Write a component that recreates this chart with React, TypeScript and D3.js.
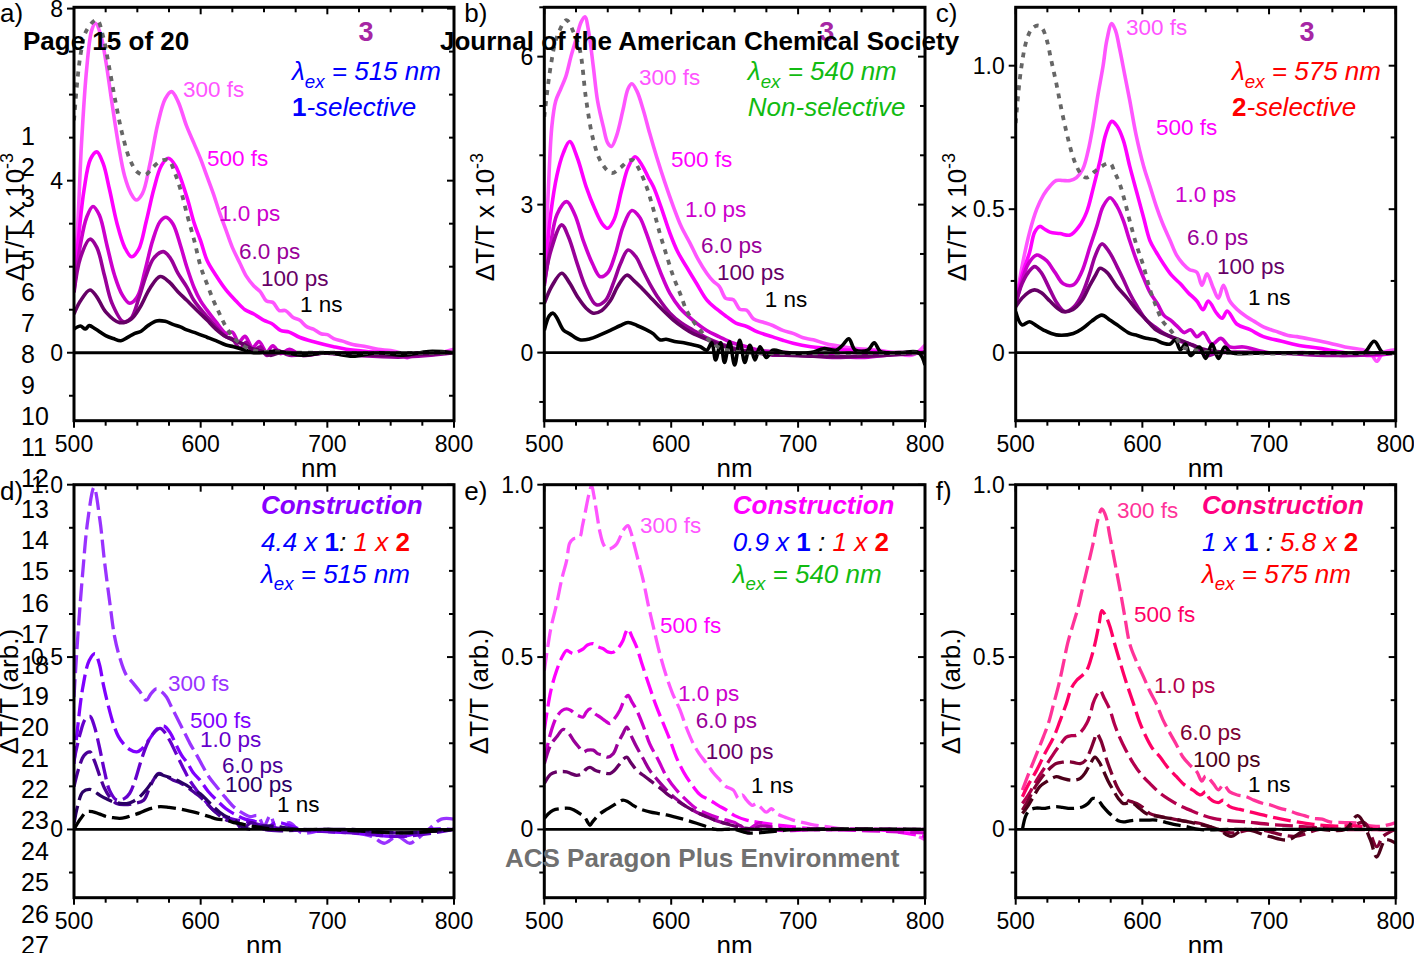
import React from 'react';
import * as d3 from 'd3';

type Pt = [number, number];

const X_DOMAIN: [number, number] = [500, 800];
const X_TICKS = [500, 600, 700, 800];
const TIME_LABELS = ['300 fs', '500 fs', '1.0 ps', '6.0 ps', '100 ps', '1 ns'];

// ---------- Panel a (λex = 515 nm, ×10^-3) ----------
const A_300fs: Pt[] = [[500,1.6],[503,3.0],[506,4.9],[510,6.6],[514,7.5],[517,7.66],[521,7.4],[525,6.8],[530,5.8],[535,4.85],[540,4.1],[545,3.7],[549,3.55],[554,3.7],[560,4.4],[566,5.3],[572,5.9],[577,6.07],[582,5.85],[589,5.26],[595,4.85],[600,4.5],[605,4.1],[610,3.7],[615,3.25],[620,2.85],[625,2.45],[631,2.08],[636,1.78],[642,1.55],[647,1.42],[652,1.2],[657,1.17],[662,0.98],[667,0.98],[673,0.82],[678,0.76],[684,0.6],[689,0.55],[695,0.44],[700,0.42],[705,0.33],[712,0.27],[720,0.19],[731,0.14],[740,0.08],[750,0.05],[757,0.0],[763,-0.12],[770,0.0],[780,-0.06],[790,0.0],[800,0.08]];
const A_500fs: Pt[] = [[500,1.5],[504,2.8],[508,3.8],[513,4.5],[518,4.67],[523,4.4],[528,3.8],[534,3.0],[540,2.45],[545.5,2.23],[551,2.4],[557,3.05],[563,3.8],[569,4.35],[574.5,4.52],[580,4.35],[589,3.63],[595,3.0],[600,2.6],[605,2.15],[612,1.8],[620,1.46],[628,1.2],[635,1.0],[642,0.9],[650,0.75],[656,0.68],[663,0.52],[670,0.48],[678,0.36],[690,0.25],[705,0.14],[715,0.08],[731,0.03],[750,0.0],[765,-0.06],[780,0.0],[800,0.0]];
const A_1ps: Pt[] = [[500,1.45],[505,2.5],[510,3.15],[515,3.4],[520,3.2],[526,2.5],[532,1.8],[538,1.35],[544,1.15],[550,1.3],[556,1.9],[562,2.6],[568,3.05],[572.6,3.15],[578,3.0],[584,2.5],[589,2.0],[595,1.5],[600,1.2],[605,0.99],[612,0.72],[620,0.45],[625,0.48],[630,0.25],[635,0.38],[641,0.12],[646,0.26],[652,0.02],[657,0.16],[663,-0.02],[670,0.08],[680,-0.06],[700,0.0],[750,-0.06],[800,0.0]];
const A_6ps: Pt[] = [[500,1.4],[505,2.2],[512.6,2.64],[518,2.45],[524,1.8],[530,1.15],[539,0.72],[545,0.8],[551,1.25],[557,1.8],[563,2.2],[570.5,2.35],[576,2.2],[582,1.85],[589,1.53],[595,1.2],[605,0.84],[612,0.6],[620,0.37],[625,0.32],[631,0.1],[636,0.24],[641,0.03],[647,0.14],[652,-0.06],[660,0.06],[670,-0.06],[690,0.0],[720,-0.06],[760,-0.1],[800,0.0]];
const A_100ps: Pt[] = [[500,0.9],[505,1.2],[512.6,1.46],[518,1.3],[525,0.95],[536,0.7],[545,0.78],[552,1.05],[560,1.5],[568,1.77],[575,1.65],[582,1.42],[589,1.22],[600,0.9],[605,0.76],[612,0.55],[620,0.37],[627,0.28],[635,0.18],[640,0.1],[647,0.05],[655,-0.06],[665,0.02],[680,-0.06],[700,0.0],[740,-0.06],[800,0.0]];
const A_1ns: Pt[] = [[500,0.55],[505,0.62],[509,0.55],[512,0.63],[517,0.55],[525,0.4],[531,0.33],[537,0.28],[542,0.35],[548,0.45],[553,0.5],[558,0.62],[565,0.74],[572,0.73],[578,0.66],[584,0.6],[589,0.53],[597,0.45],[605,0.36],[612,0.28],[620,0.18],[626,0.14],[631,0.1],[636,0.05],[642,0.0],[660,0.03],[680,-0.06],[700,0.0],[720,-0.08],[740,0.0],[760,-0.06],[780,0.03],[800,0.0]];
const A_ground: Pt[] = [[500,5.4],[505,6.9],[510,7.5],[518,7.74],[523,7.35],[528,6.6],[533,5.8],[538,5.1],[544,4.5],[550,4.2],[556,4.13],[562,4.3],[568,4.45],[574.5,4.48],[580,4.15],[585,3.7],[589,3.24],[595,2.6],[600,2.0],[605,1.6],[610,1.22],[615,0.9],[620,0.6],[626,0.35],[631,0.22],[636,0.12],[641,0.06],[650,0.02],[700,0.0],[800,0.0]];

// ---------- Panel b (λex = 540 nm, ×10^-3) ----------
const B_300fs: Pt[] = [[500,1.5],[503,3.2],[506,4.6],[509,5.1],[513,5.35],[517,5.6],[521,6.0],[525,6.35],[529,6.7],[532,6.81],[535,6.5],[538.6,5.8],[542,5.1],[546.5,4.58],[550,4.25],[553,4.18],[557,4.4],[562,4.92],[566,5.35],[569,5.45],[573,5.3],[578,4.92],[583,4.45],[588.5,3.97],[595,3.45],[601.7,2.96],[608,2.55],[614.8,2.22],[621,1.9],[628,1.61],[633,1.45],[638,1.34],[643,1.1],[649,1.07],[654,0.88],[659.5,0.86],[665,0.68],[672,0.62],[680,0.55],[688,0.45],[696,0.39],[704,0.3],[712,0.26],[722,0.18],[735,0.12],[748,0.08],[762,0.05],[775,0.0],[790,-0.05],[800,0.15]];
const B_500fs: Pt[] = [[500,1.45],[505,2.8],[510,3.6],[515,4.05],[520,4.28],[526,3.95],[533,3.36],[540,2.9],[546,2.6],[550,2.52],[555,2.7],[561,3.3],[566,3.75],[571.5,3.97],[577,3.8],[582,3.55],[586,3.36],[592,2.95],[599,2.42],[605,2.05],[612,1.74],[620,1.4],[628,1.07],[636,0.88],[643.7,0.73],[651,0.6],[659.5,0.53],[668,0.42],[680,0.32],[688,0.25],[696,0.19],[710,0.12],[722,0.09],[740,0.05],[760,0.02],[780,0.0],[800,0.02]];
const B_1ps: Pt[] = [[500,1.35],[505,2.2],[510,2.8],[517.6,3.06],[524,2.8],[531,2.25],[538,1.8],[544,1.54],[550,1.62],[556,2.0],[562,2.55],[569,2.88],[575,2.75],[580,2.45],[586,2.01],[592,1.6],[599,1.2],[607,0.9],[617,0.66],[628,0.45],[638,0.32],[648,0.2],[659.5,0.12],[670,0.05],[690,0.0],[720,-0.05],[750,-0.1],[770,-0.05],[800,0.0]];
const B_6ps: Pt[] = [[500,1.4],[505,2.05],[513.7,2.59],[519,2.35],[526,1.8],[533,1.3],[541,0.97],[548,1.05],[555,1.45],[560,1.8],[566,2.08],[572,1.95],[577,1.7],[583,1.4],[590,1.1],[599,0.8],[608,0.6],[617,0.46],[628,0.3],[638,0.19],[648,0.1],[660,0.03],[680,-0.05],[700,-0.05],[730,-0.1],[760,-0.05],[800,0.0]];
const B_100ps: Pt[] = [[500,1.0],[506,1.35],[513.7,1.61],[519,1.45],[527,1.1],[533,0.9],[538.6,0.8],[545,0.85],[552,1.05],[558,1.35],[565,1.57],[571,1.45],[577,1.3],[583,1.14],[590,0.95],[601.7,0.66],[610,0.5],[617,0.39],[627,0.28],[638,0.16],[648,0.08],[660,0.02],[690,-0.05],[730,-0.08],[770,-0.05],[800,0.0]];
const B_1ns: Pt[] = [[500,0.45],[504,0.75],[507,0.8],[510,0.7],[515,0.46],[520,0.38],[528,0.26],[536,0.28],[544,0.36],[552,0.45],[560,0.55],[566,0.61],[573,0.55],[580.6,0.46],[586,0.38],[591,0.26],[596,0.27],[604,0.22],[610,0.2],[617,0.16],[623,0.12],[628,0.05],[632,0.2],[635,-0.15],[639,0.2],[642,-0.2],[646,0.22],[650,-0.25],[654,0.25],[658,-0.2],[662,0.15],[666,-0.15],[670,0.12],[675,-0.1],[680,0.05],[690,0.0],[710,0.0],[720,0.08],[730,0.05],[735,0.15],[740,0.28],[745,0.05],[755,0.05],[760,0.2],[765,0.02],[780,0.0],[795,0.0],[800,-0.25]];
const B_ground: Pt[] = [[500,4.78],[505,5.8],[510,6.4],[517.5,6.74],[523,6.5],[528,6.14],[533,5.12],[538.6,4.31],[545,3.85],[553,3.64],[560,3.75],[566,3.88],[570,3.9],[575,3.7],[580.6,3.36],[586,2.9],[591,2.42],[596,2.0],[601.7,1.54],[607,1.2],[612,0.86],[617,0.65],[622.7,0.46],[628,0.3],[633,0.19],[638,0.1],[643.7,0.05],[660,0.0],[800,0.0]];

// ---------- Panel c (λex = 575 nm, ×10^-3) ----------
const C_300fs: Pt[] = [[500,0.17],[505,0.3],[511,0.42],[516.6,0.5],[522,0.55],[527,0.58],[532,0.6],[537,0.6],[543,0.6],[548,0.61],[553,0.64],[557,0.7],[561,0.79],[565,0.9],[569,1.0],[572,1.09],[575.8,1.147],[579,1.12],[582,1.06],[586,0.97],[590,0.88],[595,0.76],[601,0.65],[606,0.58],[611,0.51],[616,0.45],[622,0.39],[627,0.34],[632,0.31],[637,0.29],[643,0.28],[647,0.235],[651,0.275],[656,0.225],[660,0.19],[664,0.235],[669,0.18],[675,0.15],[682,0.126],[688,0.11],[695.5,0.09],[705,0.075],[715,0.06],[722,0.056],[735,0.045],[748,0.033],[760,0.02],[774,0.01],[780,0.0],[785,-0.03],[790,0.0],[800,0.01]];
const C_500fs: Pt[] = [[500,0.17],[505,0.27],[511,0.35],[515,0.42],[519,0.44],[523,0.43],[527,0.42],[535,0.415],[543,0.41],[550,0.44],[556,0.49],[561,0.57],[566.6,0.67],[571,0.76],[575.8,0.806],[580,0.79],[585,0.74],[590,0.65],[595.5,0.56],[601,0.47],[606,0.39],[611,0.35],[616.6,0.31],[623,0.27],[630,0.24],[636,0.21],[643,0.18],[648,0.15],[652,0.18],[658.7,0.137],[663,0.12],[667,0.145],[674.5,0.1],[685,0.08],[695.5,0.056],[710,0.04],[722,0.027],[740,0.015],[760,0.0],[780,-0.01],[800,0.0]];
const C_1ps: Pt[] = [[500,0.17],[505,0.25],[510,0.31],[516.6,0.34],[520,0.335],[524.5,0.32],[531,0.28],[537.6,0.24],[545.5,0.236],[552,0.28],[558.7,0.37],[564,0.44],[569,0.51],[574.5,0.54],[580,0.51],[585,0.46],[590,0.39],[595.5,0.32],[601,0.26],[606,0.21],[612,0.17],[617,0.13],[622,0.114],[628,0.09],[633,0.07],[638,0.08],[643,0.056],[648,0.07],[655,0.03],[662,0.05],[669,0.02],[680,0.02],[700,0.0],[730,0.0],[760,-0.01],[800,0.0]];
const C_6ps: Pt[] = [[500,0.17],[505,0.24],[510,0.28],[515,0.3],[520,0.28],[527,0.22],[533,0.17],[539,0.143],[546,0.16],[552,0.2],[558,0.27],[563,0.34],[568,0.379],[574,0.35],[580,0.3],[585,0.255],[590,0.207],[596,0.16],[603,0.114],[610,0.09],[616,0.07],[622,0.056],[630,0.04],[638,0.03],[643,0.02],[650,-0.01],[660,0.0],[700,0.0],[750,-0.01],[800,0.0]];
const C_100ps: Pt[] = [[500,0.16],[505,0.19],[510,0.21],[515,0.219],[520,0.21],[527,0.18],[533,0.155],[537.6,0.143],[545,0.15],[552,0.18],[558,0.23],[563,0.27],[566.6,0.294],[572,0.28],[580,0.23],[588,0.19],[595.5,0.149],[603,0.115],[611,0.079],[620,0.06],[630,0.044],[640,0.025],[650,0.01],[670,0.0],[700,0.0],[760,0.0],[800,0.0]];
const C_1ns: Pt[] = [[500,0.143],[505,0.097],[511,0.108],[516,0.095],[522,0.079],[532,0.062],[545.5,0.067],[553,0.085],[560,0.11],[568,0.131],[574,0.115],[580,0.097],[590,0.067],[596,0.06],[603,0.05],[610,0.045],[616.6,0.033],[622,0.03],[626,0.045],[630,0.01],[634,0.03],[638,-0.01],[645,0.02],[650,-0.02],[655,0.03],[660,-0.02],[665,0.02],[670,0.0],[700,0.0],[740,0.0],[760,0.0],[775,0.0],[783,0.04],[790,0.0],[800,0.0]];
const C_ground: Pt[] = [[500,0.8],[504,0.98],[508.7,1.09],[513,1.13],[517.9,1.14],[521,1.13],[524.5,1.09],[528,1.02],[532,0.94],[536,0.85],[540,0.77],[544,0.7],[548,0.65],[552,0.62],[556,0.61],[562,0.63],[568,0.65],[574.5,0.66],[578,0.63],[582,0.59],[586,0.53],[590,0.46],[595,0.38],[601,0.3],[606,0.22],[611,0.16],[616,0.11],[622,0.08],[627,0.05],[632,0.02],[640,0.01],[660,0.0],[800,0.0]];

// ---------- Panel d (construction, λex = 515 nm, arb.) ----------
const D_300fs: Pt[] = [[500,0.384],[503,0.56],[507,0.75],[511,0.9],[515.8,0.992],[520.5,0.896],[524,0.78],[528.4,0.654],[532,0.56],[536,0.5],[541,0.45],[547,0.423],[552,0.4],[557,0.375],[561,0.395],[565,0.408],[569,0.4],[573,0.384],[577,0.355],[581,0.326],[586,0.29],[591.6,0.249],[597,0.215],[602,0.181],[607,0.15],[612.6,0.124],[619,0.095],[626,0.066],[632,0.05],[639,0.037],[645,0.04],[650,0.01],[655,0.04],[660,0.0],[670,0.02],[680,-0.01],[700,0.0],[720,-0.01],[735,-0.02],[745,-0.04],[755,-0.02],[765,-0.04],[770,-0.03],[780,0.0],[790,0.03],[800,0.03]];
const D_500fs: Pt[] = [[500,0.19],[503,0.3],[507,0.413],[512,0.49],[516.6,0.51],[520,0.48],[523,0.423],[527,0.36],[531,0.307],[535,0.27],[539,0.249],[544,0.232],[549.5,0.225],[553,0.232],[557,0.249],[561,0.27],[565,0.29],[571,0.3],[576,0.28],[580,0.25],[585,0.215],[590,0.19],[594,0.165],[599.5,0.143],[606,0.11],[612.6,0.085],[620,0.06],[626,0.046],[635,0.03],[645,0.02],[650,0.0],[660,0.02],[680,0.0],[720,-0.01],[760,-0.02],[780,0.0],[800,0.0]];
const D_1ps: Pt[] = [[500,0.2],[505,0.28],[509,0.32],[512.6,0.328],[516,0.3],[520,0.24],[524,0.17],[528,0.114],[533.7,0.085],[540,0.09],[544,0.105],[548,0.14],[553,0.2],[558,0.25],[563,0.28],[568,0.293],[572,0.28],[576,0.255],[580,0.225],[586,0.18],[591,0.145],[596.8,0.114],[603,0.085],[610,0.056],[617,0.04],[625,0.03],[640,0.02],[650,0.01],[670,0.0],[720,-0.01],[760,-0.02],[800,0.0]];
const D_6ps: Pt[] = [[500,0.124],[504,0.18],[508,0.215],[512.6,0.225],[516,0.2],[520.5,0.153],[524,0.12],[528,0.095],[533.7,0.075],[540,0.072],[547,0.075],[555,0.085],[559,0.115],[562.6,0.143],[566.6,0.162],[572,0.155],[578.4,0.143],[584,0.135],[589,0.124],[594,0.11],[599.5,0.095],[605,0.075],[610,0.056],[615,0.04],[620.5,0.027],[628,0.02],[633,0.0],[640,0.02],[650,0.0],[700,0.0],[760,-0.01],[800,0.0]];
const D_100ps: Pt[] = [[500,0.017],[503,0.07],[507,0.109],[512.6,0.116],[516,0.11],[520.5,0.099],[526,0.088],[531,0.08],[536,0.076],[541.6,0.075],[547,0.082],[552,0.095],[557,0.115],[562.6,0.143],[566.6,0.16],[572,0.155],[578,0.148],[584,0.138],[589,0.128],[594,0.115],[599.5,0.104],[605,0.085],[610,0.066],[615,0.05],[620.5,0.037],[626,0.03],[632,0.01],[640,0.0],[650,0.01],[680,0.0],[720,0.0],[760,-0.01],[800,0.0]];
const D_1ns: Pt[] = [[500,0.0],[505,0.03],[510,0.051],[515,0.051],[520,0.045],[525.8,0.037],[531,0.034],[536,0.032],[541,0.035],[547,0.042],[552,0.048],[557,0.056],[562,0.062],[568,0.066],[575,0.064],[581,0.061],[588,0.056],[594,0.051],[600,0.045],[607,0.037],[613,0.03],[620.5,0.027],[626,0.02],[631,0.017],[640,0.01],[660,0.0],[700,0.0],[760,-0.01],[800,0.0]];

// ---------- Panel e (construction, λex = 540 nm, arb.) ----------
const E_300fs: Pt[] = [[500,0.46],[505,0.58],[509.7,0.654],[514,0.73],[517.6,0.78],[520,0.83],[522.9,0.843],[525,0.845],[528,0.848],[530,0.88],[532,0.915],[535,0.97],[537.3,0.997],[539,0.97],[541,0.925],[544,0.86],[546.5,0.828],[549,0.815],[551.7,0.814],[554,0.818],[557,0.828],[560,0.85],[562,0.867],[566,0.881],[568,0.865],[570,0.838],[574,0.78],[578,0.722],[582,0.65],[586,0.587],[591,0.51],[596.4,0.442],[601,0.395],[607,0.346],[612,0.295],[617.4,0.249],[622,0.22],[628,0.191],[633,0.165],[638.4,0.143],[643,0.125],[649,0.114],[653,0.09],[656,0.1],[659.4,0.085],[664,0.07],[667,0.075],[670,0.066],[675,0.05],[679,0.06],[683,0.046],[690,0.035],[696,0.027],[710,0.015],[722.5,0.008],[740,0.0],[760,0.0],[780,0.0],[800,-0.03]];
const E_500fs: Pt[] = [[500,0.288],[505,0.4],[509.7,0.461],[514,0.5],[517.6,0.519],[520,0.515],[522.9,0.51],[526,0.515],[530.7,0.524],[534,0.535],[538.6,0.539],[542,0.53],[546.5,0.524],[550,0.515],[554.4,0.514],[558,0.525],[562,0.548],[564,0.57],[566,0.582],[569,0.56],[572.8,0.529],[577,0.48],[583,0.413],[588,0.36],[593.8,0.307],[599,0.26],[604,0.21],[610,0.165],[617.4,0.124],[623,0.1],[630.5,0.085],[637,0.07],[643.7,0.056],[650,0.04],[659.4,0.027],[670,0.02],[690,0.01],[720,0.0],[760,0.0],[800,-0.02]];
const E_1ps: Pt[] = [[500,0.2],[505,0.28],[509.7,0.326],[514,0.345],[517.6,0.35],[521,0.345],[524,0.336],[527,0.33],[530.7,0.326],[533,0.34],[536,0.35],[540,0.335],[544,0.326],[548,0.315],[551.7,0.307],[555,0.32],[559.6,0.346],[563,0.375],[566,0.389],[569,0.37],[572.8,0.346],[578,0.3],[583,0.249],[590,0.2],[596.4,0.153],[604,0.115],[612,0.085],[620,0.06],[628,0.046],[636,0.035],[643.7,0.027],[650,0.02],[660,0.0],[670,0.02],[680,0.0],[720,0.0],[800,-0.01]];
const E_6ps: Pt[] = [[500,0.19],[505,0.245],[509.7,0.268],[515,0.29],[519,0.28],[522.9,0.259],[527,0.24],[530.7,0.225],[534,0.23],[538.6,0.23],[542,0.22],[546.5,0.215],[550,0.21],[554.4,0.22],[558,0.25],[562,0.278],[565,0.297],[568,0.275],[572.8,0.239],[578,0.205],[583,0.172],[590,0.14],[596.4,0.114],[604,0.088],[612,0.066],[620,0.05],[628,0.037],[636,0.025],[643.7,0.017],[655,0.01],[660,-0.01],[670,0.01],[690,0.0],[740,0.0],[800,0.0]];
const E_100ps: Pt[] = [[500,0.133],[505,0.16],[509.7,0.167],[513,0.168],[517.6,0.167],[521,0.162],[525.5,0.157],[530,0.162],[533,0.175],[536,0.18],[540,0.172],[544,0.167],[548,0.163],[551.7,0.162],[555,0.17],[559.6,0.191],[562,0.203],[565,0.21],[568,0.195],[572.8,0.172],[578,0.157],[583,0.143],[590,0.124],[596.4,0.104],[604,0.085],[612,0.066],[620,0.05],[628,0.037],[636,0.025],[645,0.015],[655,0.005],[670,0.0],[700,0.0],[800,0.0]];
const E_1ns: Pt[] = [[500,0.032],[503,0.045],[507,0.056],[512,0.06],[520,0.061],[524,0.055],[528,0.046],[532,0.035],[534,0.022],[536,0.012],[538,0.022],[541,0.035],[544,0.046],[549,0.058],[554.4,0.07],[558,0.078],[562,0.085],[566,0.08],[570,0.07],[575,0.06],[583,0.051],[590,0.046],[596.4,0.042],[604,0.035],[612,0.027],[620,0.018],[628,0.008],[635,0.0],[650,0.0],[660,-0.01],[700,0.0],[800,0.0]];

// ---------- Panel f (construction, λex = 575 nm, arb.) ----------
const F_300fs: Pt[] = [[505.3,0.114],[510,0.16],[516.6,0.22],[522,0.27],[526,0.31],[530,0.365],[534,0.42],[537.6,0.48],[541,0.54],[545.5,0.597],[549,0.64],[553,0.703],[557,0.765],[561,0.828],[565,0.9],[568,0.93],[571,0.91],[574.5,0.847],[578,0.78],[582,0.703],[586,0.62],[590,0.539],[595,0.49],[601,0.442],[606,0.4],[611,0.365],[616,0.32],[622,0.278],[627,0.245],[632,0.21],[638,0.185],[643,0.167],[647,0.14],[650,0.155],[656,0.133],[660,0.115],[664,0.13],[669,0.109],[675,0.1],[682,0.095],[688,0.085],[695.5,0.075],[702,0.07],[708.7,0.061],[715,0.055],[722,0.046],[728,0.04],[735,0.032],[742,0.03],[748,0.022],[760,0.02],[774.5,0.017],[780,0.01],[790,0.01],[800,0.02]];
const F_500fs: Pt[] = [[505.3,0.095],[510,0.13],[516.6,0.172],[523,0.22],[530,0.268],[535,0.315],[540,0.365],[544,0.41],[548,0.432],[552,0.445],[556,0.461],[559,0.49],[562.6,0.539],[566,0.6],[568,0.635],[571,0.62],[574.5,0.587],[578,0.54],[582,0.49],[587,0.43],[593,0.365],[598,0.31],[603,0.268],[608,0.235],[614,0.21],[620,0.18],[627,0.153],[633,0.13],[640,0.114],[646,0.1],[650,0.11],[653,0.09],[660,0.078],[664,0.085],[669,0.066],[677,0.058],[685,0.051],[693,0.044],[700.8,0.037],[710,0.03],[722,0.022],[735,0.015],[750,0.01],[770,0.01],[785,0.0],[800,0.0]];
const F_1ps: Pt[] = [[505.3,0.075],[510,0.1],[516.6,0.143],[523,0.18],[530,0.22],[535,0.245],[540,0.268],[544,0.272],[548,0.273],[552,0.285],[556,0.307],[559,0.335],[561,0.365],[564,0.39],[566.6,0.403],[570,0.38],[574.5,0.346],[578,0.305],[582,0.268],[587,0.23],[593,0.191],[599,0.16],[606,0.133],[614,0.105],[622,0.085],[630,0.068],[637.6,0.056],[645,0.045],[656,0.032],[670,0.025],[682,0.022],[700,0.015],[720,0.01],[760,0.0],[800,0.0]];
const F_6ps: Pt[] = [[505.3,0.056],[510,0.085],[514,0.115],[519,0.143],[525,0.17],[532,0.191],[537,0.195],[543,0.196],[547,0.193],[551,0.191],[555,0.2],[559,0.23],[562,0.26],[564,0.278],[567,0.26],[569,0.239],[572,0.2],[576,0.16],[580,0.124],[584,0.1],[588,0.085],[592,0.08],[595.5,0.075],[600,0.065],[606,0.046],[614,0.038],[622,0.032],[630,0.026],[637.6,0.022],[645,0.018],[660,0.0],[670,-0.01],[690,0.0],[720,-0.02],[740,0.0],[760,0.0],[775,0.02],[785,-0.05],[790,-0.02],[800,0.0]];
const F_100ps: Pt[] = [[505.3,0.046],[510,0.07],[514,0.095],[519,0.124],[525,0.14],[532,0.153],[537,0.148],[543,0.143],[547,0.143],[551,0.148],[555,0.165],[559,0.191],[562.6,0.21],[566,0.195],[569,0.172],[573,0.14],[577,0.114],[581,0.09],[585,0.075],[590,0.078],[593,0.075],[598,0.06],[603,0.046],[612,0.038],[622,0.032],[632,0.025],[645,0.015],[660,0.0],[670,-0.02],[680,0.0],[700,-0.02],[715,-0.03],[730,0.0],[760,0.0],[770,0.04],[780,-0.03],[785,-0.08],[792,-0.03],[800,-0.04]];
const F_1ns: Pt[] = [[505.3,0.0],[508,0.04],[511,0.056],[516,0.062],[522,0.061],[527,0.064],[532,0.066],[537,0.064],[543,0.061],[548,0.062],[553,0.066],[557,0.075],[561,0.09],[565,0.085],[569,0.066],[573,0.05],[577,0.037],[581,0.025],[585,0.022],[590,0.025],[595.5,0.027],[603,0.027],[611,0.027],[619,0.02],[627,0.013],[635,0.008],[645,0.0],[670,0.0],[700,0.0],[760,0.0],[800,0.0]];

// Label anchors (nm, value) for the time-delay labels
const A_LABELS: Pt[] = [[586.1,5.95],[605,4.35],[614.5,3.07],[630.3,2.18],[647.6,1.55],[678.4,0.95]];
const B_LABELS: Pt[] = [[574.6,5.43],[599.8,3.76],[610.8,2.75],[623.4,2.02],[636,1.47],[673.8,0.93]];
const C_LABELS: Pt[] = [[587.1,1.107],[610.8,0.759],[625.8,0.525],[635.3,0.375],[659,0.274],[683.4,0.166]];
const D_LABELS: Pt[] = [[574.2,0.403],[591.6,0.293],[599.5,0.238],[616.8,0.163],[619.2,0.108],[660.3,0.05]];
const E_LABELS: Pt[] = [[575.4,0.861],[591.1,0.569],[605.3,0.374],[619.4,0.293],[627.3,0.204],[662.8,0.105]];
const F_LABELS: Pt[] = [[580,0.902],[593.4,0.603],[609.2,0.397],[629.7,0.259],[640,0.18],[683.4,0.108]];

const TOP_COLORS = ['#ff55ff', '#ff00ff', '#cc00cc', '#990099', '#660066', '#000000'];
const D_COLORS = ['#9933ff', '#7f00ff', '#6600cc', '#4c0099', '#2b0066', '#000000'];
const F_COLORS = ['#ff3399', '#ff0066', '#b3004d', '#800033', '#4d001a', '#000000'];

const FONT = '"Liberation Sans", Arial, Helvetica, sans-serif';
const COLS = [{ x0: 74, x1: 454 }, { x0: 544.3, x1: 925 }, { x0: 1015.7, x1: 1395.7 }];
const ROWS = [{ y0: 7.3, y1: 420.7 }, { y0: 484.7, y1: 897.7 }];

type Seg = { t: string; b?: boolean; i?: boolean; c?: string; sub?: boolean };

const BLUE = '#0000ff';
const RED = '#ff0000';
const GREEN = '#11bb11';
const lam = (nm: string, c: string): Seg[] => [
  { t: 'λ', i: true, c }, { t: 'ex', i: true, c, sub: true }, { t: ` = ${nm} nm`, i: true, c },
];

type PanelDef = {
  key: string; letter: string; col: number; row: number;
  yDomain: [number, number]; yMajor: number[]; yMinor: number; yFmt: (v: number) => string;
  series: Pt[][]; colors: string[]; labels: Pt[]; dashed: boolean; ground?: Pt[];
  yTitle: 'e3' | 'arb'; nmX?: number;
  topNum?: Pt; annX: number; annLines: { y: number; segs: Seg[] }[];
};

const fmtTop = (v: number) => (v === 0 ? '0' : v.toFixed(1));

const PANELS: PanelDef[] = [
  {
    key: 'a', letter: 'a)', col: 0, row: 0, yDomain: [-1.58, 8.03], yMajor: [0, 4, 8], yMinor: 1, yFmt: (v) => String(v),
    series: [A_300fs, A_500fs, A_1ps, A_6ps, A_100ps, A_1ns], colors: TOP_COLORS, labels: A_LABELS, dashed: false, ground: A_ground,
    yTitle: 'e3', nmX: 319, topNum: [730.5, 7.25], annX: 672.1,
    annLines: [{ y: 6.34, segs: lam('515', BLUE) }, { y: 5.5, segs: [{ t: '1', b: true, c: BLUE }, { t: '-selective', i: true, c: BLUE }] }],
  },
  {
    key: 'b', letter: 'b)', col: 1, row: 0, yDomain: [-1.38, 7.0], yMajor: [0, 3, 6], yMinor: 1, yFmt: (v) => String(v),
    series: [B_300fs, B_500fs, B_1ps, B_6ps, B_100ps, B_1ns], colors: TOP_COLORS, labels: B_LABELS, dashed: false, ground: B_ground,
    yTitle: 'e3', topNum: [722.6, 6.32], annX: 660.4,
    annLines: [{ y: 5.53, segs: lam('540', GREEN) }, { y: 4.8, segs: [{ t: 'Non-selective', i: true, c: GREEN }] }],
  },
  {
    key: 'c', letter: 'c)', col: 2, row: 0, yDomain: [-0.237, 1.2035], yMajor: [0, 0.5, 1.0], yMinor: 0.25, yFmt: fmtTop,
    series: [C_300fs, C_500fs, C_1ps, C_6ps, C_100ps, C_1ns], colors: TOP_COLORS, labels: C_LABELS, dashed: false, ground: C_ground,
    yTitle: 'e3', topNum: [730, 1.086], annX: 670.8,
    annLines: [{ y: 0.95, segs: lam('575', RED) }, { y: 0.825, segs: [{ t: '2', b: true, c: RED }, { t: '-selective', i: true, c: RED }] }],
  },
  {
    key: 'd', letter: 'd)', col: 0, row: 1, yDomain: [-0.198, 1.0], yMajor: [0, 0.5, 1.0], yMinor: 0.125, yFmt: fmtTop,
    series: [D_300fs, D_500fs, D_1ps, D_6ps, D_100ps, D_1ns], colors: D_COLORS, labels: D_LABELS, dashed: true,
    yTitle: 'arb', annX: 647.6,
    annLines: [
      { y: 0.916, segs: [{ t: 'Construction', b: true, i: true, c: '#8800ff' }] },
      { y: 0.809, segs: [{ t: '4.4 x ', i: true, c: BLUE }, { t: '1', b: true, c: BLUE }, { t: ': ', i: true, c: '#000' }, { t: '1 x ', i: true, c: RED }, { t: '2', b: true, c: RED }] },
      { y: 0.716, segs: lam('515', BLUE) },
    ],
  },
  {
    key: 'e', letter: 'e)', col: 1, row: 1, yDomain: [-0.198, 1.0], yMajor: [0, 0.5, 1.0], yMinor: 0.125, yFmt: fmtTop,
    series: [E_300fs, E_500fs, E_1ps, E_6ps, E_100ps, E_1ns], colors: TOP_COLORS, labels: E_LABELS, dashed: true,
    yTitle: 'arb', annX: 648.5,
    annLines: [
      { y: 0.916, segs: [{ t: 'Construction', b: true, i: true, c: '#ff00ff' }] },
      { y: 0.809, segs: [{ t: '0.9 x ', i: true, c: BLUE }, { t: '1', b: true, c: BLUE }, { t: ' : ', i: true, c: '#000' }, { t: '1 x ', i: true, c: RED }, { t: '2', b: true, c: RED }] },
      { y: 0.716, segs: lam('540', GREEN) },
    ],
  },
  {
    key: 'f', letter: 'f)', col: 2, row: 1, yDomain: [-0.198, 1.0], yMajor: [0, 0.5, 1.0], yMinor: 0.125, yFmt: fmtTop,
    series: [F_300fs, F_500fs, F_1ps, F_6ps, F_100ps, F_1ns], colors: F_COLORS, labels: F_LABELS, dashed: true,
    yTitle: 'arb', annX: 647.1,
    annLines: [
      { y: 0.916, segs: [{ t: 'Construction', b: true, i: true, c: '#ff0080' }] },
      { y: 0.809, segs: [{ t: '1 x ', i: true, c: BLUE }, { t: '1', b: true, c: BLUE }, { t: ' : ', i: true, c: '#000' }, { t: '5.8 x ', i: true, c: RED }, { t: '2', b: true, c: RED }] },
      { y: 0.716, segs: lam('575', RED) },
    ],
  },
];

function Rich({ x, y, segs, size }: { x: number; y: number; segs: Seg[]; size: number }) {
  const out: React.ReactNode[] = [];
  let inSub = false;
  segs.forEach((s, k) => {
    let dy = 0;
    if (s.sub && !inSub) { dy = size * 0.3; inSub = true; }
    else if (!s.sub && inSub) { dy = -size * 0.3; inSub = false; }
    out.push(
      <tspan key={k} dy={dy || undefined} fill={s.c} fontWeight={s.b ? 'bold' : 'normal'}
        fontStyle={s.i ? 'italic' : 'normal'} fontSize={s.sub ? size * 0.72 : size}>{s.t}</tspan>
    );
  });
  return <text x={x} y={y} fontFamily={FONT} fontSize={size}>{out}</text>;
}

function Panel({ p }: { p: PanelDef }) {
  const col = COLS[p.col];
  const row = ROWS[p.row];
  const x = d3.scaleLinear().domain(X_DOMAIN).range([col.x0, col.x1]);
  const y = d3.scaleLinear().domain(p.yDomain).range([row.y1, row.y0]);
  const line = d3.line<Pt>().x((d) => x(d[0])).y((d) => y(d[1])).curve(d3.curveCatmullRom.alpha(0.5));
  const xMinor = d3.range(500, 800.001, 25);
  const yMinor = d3.range(Math.ceil(p.yDomain[0] / p.yMinor) * p.yMinor, p.yDomain[1] + 1e-9, p.yMinor);
  const clipId = `clip-${p.key}`;
  const isMajX = (v: number) => X_TICKS.includes(v);
  const isMajY = (v: number) => p.yMajor.some((m) => Math.abs(m - v) < 1e-9);
  const tickFs = 23;
  const cx = (col.x0 + col.x1) / 2;
  return (
    <g>
      <defs>
        <clipPath id={clipId}>
          <rect x={col.x0} y={row.y0} width={col.x1 - col.x0} height={row.y1 - row.y0} />
        </clipPath>
      </defs>
      {xMinor.map((v) => {
        const L = isMajX(v) ? 7 : 5;
        return (
          <g key={`xt${v}`} stroke="#000" strokeWidth={2}>
            <line x1={x(v)} x2={x(v)} y1={row.y1} y2={row.y1 + L} />
            <line x1={x(v)} x2={x(v)} y1={row.y0} y2={row.y0 + L} />
          </g>
        );
      })}
      {yMinor.map((v) => {
        const L = isMajY(v) ? 7 : 5;
        return (
          <g key={`yt${v}`} stroke="#000" strokeWidth={2}>
            <line x1={col.x0 - L} x2={col.x0} y1={y(v)} y2={y(v)} />
            <line x1={col.x1 - L} x2={col.x1} y1={y(v)} y2={y(v)} />
          </g>
        );
      })}
      {X_TICKS.map((v) => (
        <text key={`xl${v}`} x={x(v)} y={row.y1 + 31} textAnchor="middle" fontFamily={FONT} fontSize={tickFs}>{v}</text>
      ))}
      {p.yMajor.map((v) => (
        <text key={`yl${v}`} x={col.x0 - 11} y={y(v)} dy="0.35em" textAnchor="end" fontFamily={FONT} fontSize={tickFs}>{p.yFmt(v)}</text>
      ))}
      <g clipPath={`url(#${clipId})`} fill="none">
        {p.series.map((s, k) => (
          <path key={k} d={line(s) || ''} stroke={p.colors[k]} strokeWidth={p.dashed ? 3.3 : 3.6}
            strokeDasharray={p.dashed ? '18,6' : undefined} strokeLinejoin="round" />
        ))}
        {p.ground && (
          <path d={line(p.ground) || ''} stroke="#666666" strokeWidth={3.8} strokeDasharray="5,6" />
        )}
      </g>
      <line x1={col.x0} x2={col.x1} y1={y(0)} y2={y(0)} stroke="#000" strokeWidth={2.8} />
      <rect x={col.x0} y={row.y0} width={col.x1 - col.x0} height={row.y1 - row.y0} fill="none" stroke="#000" strokeWidth={3} />
      {p.labels.map((d, k) => (
        <text key={`lb${k}`} x={x(d[0])} y={y(d[1])} fontFamily={FONT} fontSize={22.5} fill={p.colors[k]}>{TIME_LABELS[k]}</text>
      ))}
      {p.topNum && (
        <text x={x(p.topNum[0])} y={y(p.topNum[1])} textAnchor="middle" fontFamily={FONT} fontSize={27} fontWeight="bold" fill="#a626a4">3</text>
      )}
      {p.annLines.map((l, k) => (
        <Rich key={`an${k}`} x={x(p.annX)} y={y(l.y)} segs={l.segs} size={26} />
      ))}
      <text x={p.nmX ?? cx} y={row.y1 + 56} textAnchor="middle" fontFamily={FONT} fontSize={26}>nm</text>
      {p.yTitle === 'e3' ? (
        <text transform={`translate(${col.x0 - 50},217) rotate(-90)`} textAnchor="middle" fontFamily={FONT} fontSize={26}>
          ΔT/T x 10<tspan dy={-11} fontSize={18}>-3</tspan>
        </text>
      ) : (
        <text transform={`translate(${col.x0 - 56},${y(0.4)}) rotate(-90)`} textAnchor="middle" fontFamily={FONT} fontSize={26}>
          ΔT/T (arb.)
        </text>
      )}
      <text x={col.x0 - (p.col === 0 ? 74 : 80)} y={row.y0 + 15} fontFamily={FONT} fontSize={26}>{p.letter}</text>
    </g>
  );
}

const LINE_NUMBERS = d3.range(1, 28);

export default function App() {
  return (
    <div style={{ position: 'fixed', left: 0, top: 0, background: '#fff' }}>
      <svg width={1414} height={953} viewBox="0 0 1414 953" style={{ display: 'block' }}>
        <rect width={1414} height={953} fill="#fff" />
        {PANELS.map((p) => <Panel key={p.key} p={p} />)}
        <text x={23} y={50} fontFamily={FONT} fontSize={26} fontWeight="bold">Page 15 of 20</text>
        <text x={440} y={50} fontFamily={FONT} fontSize={26} fontWeight="bold">Journal of the American Chemical Society</text>
        <text x={505} y={867} fontFamily={FONT} fontSize={26} fontWeight="bold" fill="#707070">ACS Paragon Plus Environment</text>
        {LINE_NUMBERS.map((n) => (
          <text key={`ln${n}`} x={21} y={145 + (n - 1) * 31.1} fontFamily={FONT} fontSize={25}>{n}</text>
        ))}
      </svg>
    </div>
  );
}
